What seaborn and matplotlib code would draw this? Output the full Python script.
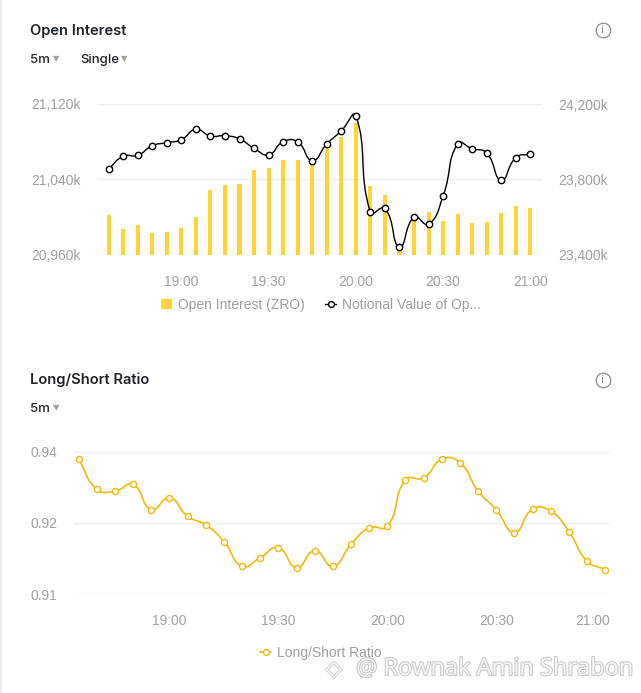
import matplotlib
matplotlib.use("Agg")
import numpy as np
import matplotlib.pyplot as plt
import matplotlib.patheffects as pe
from matplotlib.lines import Line2D
from matplotlib.patches import Patch, PathPatch
from matplotlib.path import Path
import matplotlib.transforms as mtransforms
import seaborn as sns
import pandas as pd

# ---------------- data ----------------
times = ["18:35", "18:40", "18:45", "18:50", "18:55", "19:00", "19:05", "19:10", "19:15", "19:20",
         "19:25", "19:30", "19:35", "19:40", "19:45", "19:50", "19:55", "20:00", "20:05", "20:10",
         "20:15", "20:20", "20:25", "20:30", "20:35", "20:40", "20:45", "20:50", "20:55", "21:00"]

open_interest_k = [21002, 20988, 20992, 20983, 20984, 20989, 21000, 21029, 21034, 21035,
                   21050, 21052, 21061, 21061, 21057, 21074, 21085, 21100, 21033, 21024,
                   20965, 20998, 21006, 20996, 21003, 20994, 20995, 21004, 21012, 21010]

notional_k = [23856, 23923, 23928, 23979, 23995, 24011, 24066, 24030, 24032, 24015,
              23965, 23931, 24000, 23999, 23900, 23988, 24058, 24138, 23626, 23647,
              23441, 23600, 23563, 23713, 23990, 23963, 23940, 23796, 23916, 23934]

long_short_ratio = [0.9384, 0.9321, 0.9317, 0.9331, 0.9278, 0.9303, 0.9264, 0.9246, 0.9211, 0.9159,
                    0.9177, 0.9198, 0.9156, 0.9192, 0.9159, 0.9205, 0.9240, 0.9243, 0.9341, 0.9345,
                    0.9384, 0.9377, 0.9317, 0.9278, 0.9230, 0.9279, 0.9275, 0.9232, 0.9170, 0.9152]

x_tick_labels = ["19:00", "19:30", "20:00", "20:30", "21:00"]
oi_ticks = [20960, 21040, 21120]
notional_ticks = [23400, 23800, 24200]
ratio_ticks = [0.91, 0.925, 0.94]
ratio_tick_labels = ["0.91", "0.92", "0.94"]

# ---------------- helpers ----------------
def to_min(t):
    h, m = t.split(":")
    return int(h) * 60 + int(m)

base = to_min(times[0])
xs = [to_min(t) - base for t in times]
xt = [to_min(t) - base for t in x_tick_labels]

df = pd.DataFrame({"x": xs, "oi": open_interest_k, "nv": notional_k, "ls": long_short_ratio})

sns.set_theme(style="white")
plt.rcParams["font.family"] = ["Liberation Sans", "DejaVu Sans"]

W, H = 641, 693
fig = plt.figure(figsize=(W / 100, H / 100), dpi=100)
fig.patch.set_facecolor("white")

def fx(px):
    return px / W

def fy(py):
    return 1 - py / H

YELLOW = "#FCD535"
GOLD = "#F0B90B"
TICK = "#A0A0A0"
GRID = "#EFEFEF"
DARK = "#1E2329"

def k_fmt(v):
    return f"{v:,}k"

def style_axis(a):
    for s in a.spines.values():
        s.set_visible(False)
    a.tick_params(axis="both", length=0, labelsize=10, labelcolor=TICK)
    a.set_xlabel("")
    a.set_ylabel("")

def smooth_curve(a, line, color, lw, smooth=0.5):
    """Draw a smooth (ECharts-style) bezier stroke through the vertices of a seaborn line."""
    pts = a.transData.transform(line.get_xydata())
    n = len(pts)
    cin, cout = [], []
    for i in range(n):
        p = pts[i]
        prv = pts[i - 1] if i > 0 else p
        nxt = pts[i + 1] if i < n - 1 else p
        v = nxt - prv
        d0 = np.hypot(*(p - prv))
        d1 = np.hypot(*(nxt - p))
        r = d1 / (d0 + d1) if (d0 + d1) > 0 else 0.5
        cin.append(p - v * smooth * (1 - r))
        cout.append(p + v * smooth * r)
    verts = [pts[0]]
    codes = [Path.MOVETO]
    for i in range(n - 1):
        verts += [cout[i], cin[i + 1], pts[i + 1]]
        codes += [Path.CURVE4] * 3
    patch = PathPatch(Path(verts, codes), facecolor="none", edgecolor=color, lw=lw,
                      transform=mtransforms.IdentityTransform(), zorder=1.5)
    a.add_artist(patch)

# ---------------- top chart ----------------
ax = fig.add_axes([fx(97), fy(255), fx(542 - 97), (255 - 104) / H])
sns.barplot(data=df, x="x", y="oi", ax=ax, native_scale=True, color=YELLOW,
            width=0.28, errorbar=None, linewidth=0, saturation=1)
ax.set_ylim(oi_ticks[0], oi_ticks[-1])
ax.set_yticks(oi_ticks)
ax.set_yticklabels([k_fmt(v) for v in oi_ticks])
ax.set_xlim(-4.0, 149.0)
ax.set_xticks(xt)
ax.set_xticklabels(x_tick_labels)
style_axis(ax)
ax.tick_params(axis="y", pad=12)
ax.tick_params(axis="x", pad=14.4)
ax.yaxis.grid(True, color=GRID, lw=1)
ax.xaxis.grid(False)
ax.set_axisbelow(True)

ax2 = ax.twinx()
sns.lineplot(data=df, x="x", y="nv", ax=ax2, color="black", lw=0,
             marker="o", markersize=4.6, markerfacecolor="white",
             markeredgecolor="black", markeredgewidth=1.0)
ax2.set_ylim(notional_ticks[0], notional_ticks[-1])
ax2.set_yticks(notional_ticks)
ax2.set_yticklabels([k_fmt(v) for v in notional_ticks])
ax2.set_xlim(-4.0, 149.0)
style_axis(ax2)
ax2.tick_params(axis="y", pad=12)
ax2.grid(False)
smooth_curve(ax2, ax2.lines[0], "black", 1.0)

handles = [Patch(facecolor=YELLOW, edgecolor="none"),
           Line2D([0], [0], color="black", lw=1.0, marker="o", markersize=4.2,
                  markerfacecolor="white", markeredgecolor="black", markeredgewidth=1.0)]
fig.legend(handles, ["Open Interest (ZRO)", "Notional Value of Op..."],
           loc="center", bbox_to_anchor=(fx(321), fy(305)), ncol=2, frameon=False,
           fontsize=10, labelcolor="#9E9E9E", handlelength=0.75, handleheight=0.7,
           handletextpad=0.45, columnspacing=1.5)

# ---------------- bottom chart ----------------
ax3 = fig.add_axes([fx(74), fy(594.3), fx(611 - 74), (594.3 - 451.7) / H])
sns.lineplot(data=df, x="x", y="ls", ax=ax3, color=GOLD, lw=0,
             marker="o", markersize=4.4, markerfacecolor="white",
             markeredgecolor=GOLD, markeredgewidth=1.0)
ax3.set_ylim(ratio_ticks[0], ratio_ticks[-1])
ax3.set_yticks(ratio_ticks)
ax3.set_yticklabels(ratio_tick_labels)
ax3.set_xlim(-1.3, 146.6)
ax3.set_xticks(xt)
ax3.set_xticklabels(x_tick_labels)
style_axis(ax3)
ax3.tick_params(axis="y", pad=12)
ax3.tick_params(axis="x", pad=14.4)
ax3.yaxis.grid(True, color=GRID, lw=1)
ax3.xaxis.grid(False)
ax3.set_axisbelow(True)
smooth_curve(ax3, ax3.lines[0], GOLD, 1.2)
last = ax3.get_xticklabels()[-1]
last.set_horizontalalignment("right")
last.set_transform(last.get_transform() + mtransforms.ScaledTranslation(5 / 100, 0, fig.dpi_scale_trans))

fig.legend([Line2D([0], [0], color=GOLD, lw=1.2, marker="o", markersize=4.2,
                   markerfacecolor="white", markeredgecolor=GOLD, markeredgewidth=1.0)],
           ["Long/Short Ratio"], loc="center", bbox_to_anchor=(fx(321), fy(653)),
           frameon=False, fontsize=10, labelcolor="#9E9E9E", handlelength=0.75,
           handletextpad=0.45)

# ---------------- header texts ----------------
HFONT = ["Inter", "DejaVu Sans"]
fig.text(fx(30), fy(31), "Open Interest", fontsize=10.6, fontweight="semibold",
         color=DARK, va="center", ha="left", family=HFONT)
fig.text(fx(30), fy(60), "5m", fontsize=9.5, fontweight="medium", color=DARK,
         va="center", ha="left", family=HFONT)
fig.text(fx(53), fy(59), "▼", fontsize=6, color="#A0A0A0", va="center", ha="left",
         family=["DejaVu Sans"])
fig.text(fx(80), fy(60), "Single", fontsize=9.5, fontweight="medium", color=DARK,
         va="center", ha="left", family=HFONT)
fig.text(fx(121), fy(59), "▼", fontsize=6, color="#A0A0A0", va="center", ha="left",
         family=["DejaVu Sans"])

fig.text(fx(30), fy(380), "Long/Short Ratio", fontsize=10.6, fontweight="semibold",
         color=DARK, va="center", ha="left", family=HFONT)
fig.text(fx(30), fy(409), "5m", fontsize=9.5, fontweight="medium", color=DARK,
         va="center", ha="left", family=HFONT)
fig.text(fx(53), fy(408), "▼", fontsize=6, color="#A0A0A0", va="center", ha="left",
         family=["DejaVu Sans"])

# info icons
for cy in (30, 380):
    fig.add_artist(Line2D([fx(603)], [fy(cy)], marker="o", markersize=10.5,
                          markerfacecolor="none", markeredgecolor="#8E8E8E",
                          markeredgewidth=0.9, transform=fig.transFigure))
    fig.text(fx(603), fy(cy), "i", fontsize=7.5, color="#8E8E8E", ha="center",
             va="center", family=["DejaVu Sans"])

# left border strip
fig.add_artist(Line2D([fx(1), fx(1)], [0, 1], color="#EDEDED", lw=1.5,
                      transform=fig.transFigure))

# watermark
fig.text(fx(334), fy(669), "◈", fontsize=15, color="white", ha="center", va="center",
         family=["DejaVu Sans"],
         path_effects=[pe.withStroke(linewidth=1.4, foreground="#D0D0D0")])
fig.text(fx(633), fy(669), "@ Rownak Amin Shrabon", fontsize=17, color="#F7F7F7",
         ha="right", va="center", family=["Open Sans", "DejaVu Sans"],
         path_effects=[pe.withStroke(linewidth=1.5, foreground="#C8C8C8")])

fig.savefig("out.png", dpi=100, facecolor="white")
